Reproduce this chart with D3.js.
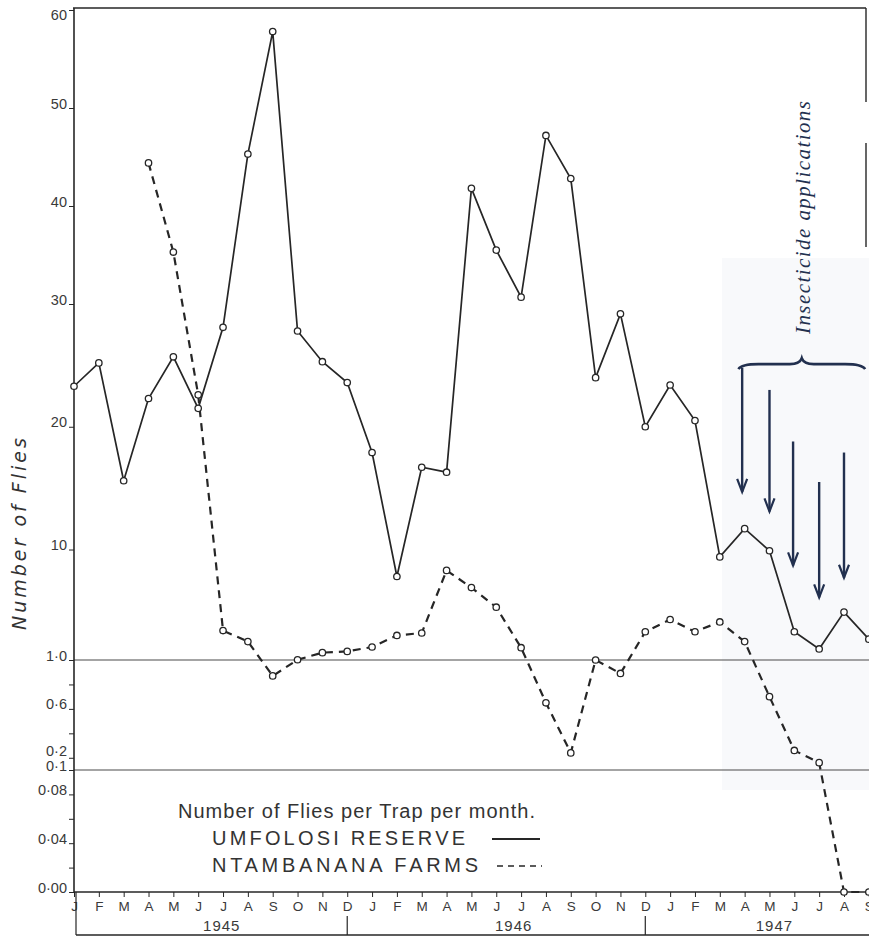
<!DOCTYPE html>
<html>
<head>
<meta charset="UTF-8">
<title>Number of flies per trap per month</title>
<script src="https://d3js.org/d3.v7.min.js"></script>
<style>
    body { margin: 0; background: #fff; }
    svg { display: block; }
    .tick text { font-family: "Liberation Sans", sans-serif; fill: #3a3a3a; }
</style>
</head>
<body>
<svg class="chart" width="869" height="937"></svg>
<script>

// months, Jan 1945 .. Sep 1947
var months = ["J","F","M","A","M","J","J","A","S","O","N","D",
              "J","F","M","A","M","J","J","A","S","O","N","D",
              "J","F","M","A","M","J","J","A","S"];
var years = ["1945", "1946", "1947"];

// Umfolosi Reserve (solid), from Jan 1945
var umfolosi = [23.3, 25.2, 15.6, 22.3, 25.7, 21.5, 28.1, 45.3, 57.8, 27.8, 25.3, 23.6,
                17.9, 7.8, 16.7, 16.3, 41.8, 35.5, 30.7, 47.2, 42.8, 24.0, 29.2, 20.0,
                23.4, 20.5, 9.4, 11.7, 9.9, 3.3, 1.9, 4.9, 2.7];

// Ntambanana Farms (dashed), from Apr 1945
var ntambananaStart = 3;
var ntambanana = [44.4, 35.3, 22.6, 3.4, 2.5, 0.87, 1.02, 1.6, 1.7,
                  2.06, 3.0, 3.2, 8.3, 6.9, 5.3, 2.0, 0.65, 0.24, 1.0, 0.89, 3.3,
                  4.3, 3.3, 4.1, 2.5, 0.70, 0.26, 0.16, 0.0, 0.0];

// y axis ticks (the scale is broken into three linear bands)
var yLabelled = [60, 50, 40, 30, 20, 10, 1, 0.6, 0.2, 0.1, 0.08, 0.04, 0];
var yLabels = ["60", "50", "40", "30", "20", "10", "1·0", "0·6", "0·2", "0·1", "0·08", "0·04", "0·00"];
var yMinor = [0.8, 0.4, 0.06, 0.02];

// insecticide applications: month position, arrow top and arrow tip
var sprayMonth = [26.9, 28.0, 28.95, 30.0, 31.0];
var sprayTop = [24.8, 23.0, 18.8, 15.5, 17.9];
var sprayTip = [14.7, 13.1, 8.7, 6.1, 7.7];

var ink = "#262626", navy = "#22304f";
var svg = d3.select(".chart");

var x = d3.scaleLinear().domain([0, 31]).range([74, 844]);
var y = d3.scaleLinear()
        .domain([0, 0.1, 1, 30, 60])
        .range([892, 770, 660, 304, 10]);

// faint scanned patch on the right
svg.append("rect").attr("x", 722).attr("y", 258).attr("width", 147).attr("height", 532)
        .attr("fill", "#f8f9fb");

// frame lines
svg.append("line").attr("x1", 73).attr("x2", 866).attr("y1", 8).attr("y2", 8)
        .attr("stroke", ink).attr("stroke-width", 1.6);
svg.append("line").attr("x1", 866).attr("x2", 866).attr("y1", 8).attr("y2", 102)
        .attr("stroke", ink).attr("stroke-width", 1.4);
svg.append("line").attr("x1", 866).attr("x2", 866).attr("y1", 143).attr("y2", 247)
        .attr("stroke", ink).attr("stroke-width", 1.4);

// band separators at 1.0 and 0.1
[1, 0.1].forEach(function (v) {
    svg.append("line").attr("x1", 74).attr("x2", 869).attr("y1", y(v)).attr("y2", y(v))
            .attr("stroke", "#4a4a4a").attr("stroke-width", 1.1);
});

// y axis
var yAxis = d3.axisLeft(y).tickValues(yLabelled).tickSize(5).tickPadding(2)
        .tickFormat(function (d, i) { return yLabels[i]; });
var gy = svg.append("g").attr("transform", "translate(74,0)").call(yAxis);
gy.select(".domain").remove();
gy.selectAll(".tick line").attr("stroke", ink);
gy.selectAll(".tick text").attr("font-size", 14.5).attr("dy", "0em")
        .attr("y", function (d) { return d === 60 ? 9 : (d === 0.2 ? -2 : 0); });
svg.append("g").attr("transform", "translate(74,0)")
        .call(d3.axisLeft(y).tickValues(yMinor).tickSize(5).tickFormat(""))
        .call(function (g) { g.select(".domain").remove(); })
        .selectAll("line").attr("stroke", ink);
svg.append("line").attr("x1", 74).attr("x2", 74).attr("y1", 8).attr("y2", 893)
        .attr("stroke", ink).attr("stroke-width", 1.6);

// x axis
var xAxis = d3.axisBottom(x).tickValues(d3.range(months.length)).tickSize(5).tickPadding(4)
        .tickFormat(function (d) { return months[d]; });
var gx = svg.append("g").attr("transform", "translate(0," + y(0) + ")").call(xAxis);
gx.select(".domain").remove();
gx.selectAll(".tick line").attr("stroke", ink);
gx.selectAll(".tick text").attr("font-size", 13.5);
svg.append("line").attr("x1", 74).attr("x2", 869).attr("y1", y(0)).attr("y2", y(0))
        .attr("stroke", ink).attr("stroke-width", 1.6);

// year box below the months
svg.append("line").attr("x1", 76).attr("x2", 869).attr("y1", 935).attr("y2", 935)
        .attr("stroke", ink).attr("stroke-width", 1.4);
svg.append("line").attr("x1", 76).attr("x2", 76).attr("y1", y(0)).attr("y2", 935)
        .attr("stroke", ink).attr("stroke-width", 1.2);
[11, 23].forEach(function (m) {
    svg.append("line").attr("x1", x(m)).attr("x2", x(m)).attr("y1", 916).attr("y2", 935)
            .attr("stroke", ink).attr("stroke-width", 1.2);
});
var yearCentre = [5.95, 17.7, 28.2];
svg.selectAll(".year").data(years).enter().append("text").attr("class", "year")
        .attr("x", function (d, i) { return x(yearCentre[i]); })
        .attr("y", 931)
        .attr("text-anchor", "middle")
        .attr("font-family", "Liberation Sans, sans-serif")
        .attr("font-size", 15).attr("fill", "#3a3a3a")
        .attr("letter-spacing", 1)
        .text(function (d) { return d; });

// y title
svg.append("text")
        .attr("transform", "translate(26,630) rotate(-90)")
        .attr("font-family", "DejaVu Sans, sans-serif")
        .attr("font-style", "italic").attr("font-size", 19).attr("fill", "#333")
        .attr("textLength", 192).attr("lengthAdjust", "spacing")
        .text("Number of Flies");

// series
var solidLine = d3.line()
        .x(function (d, i) { return x(i); })
        .y(function (d) { return y(d); });
var dashLine = d3.line()
        .x(function (d, i) { return x(i + ntambananaStart); })
        .y(function (d) { return y(d); });

svg.append("path").datum(ntambanana).attr("d", dashLine)
        .attr("fill", "none").attr("stroke", ink).attr("stroke-width", 2.2)
        .attr("stroke-dasharray", "8,6");
svg.append("path").datum(umfolosi).attr("d", solidLine)
        .attr("fill", "none").attr("stroke", ink).attr("stroke-width", 1.7);

svg.selectAll(".dot-n").data(ntambanana).enter().append("circle").attr("class", "dot-n")
        .attr("cx", function (d, i) { return x(i + ntambananaStart); })
        .attr("cy", function (d) { return y(d); })
        .attr("r", 3.2).attr("fill", "#fff").attr("stroke", ink).attr("stroke-width", 1.3);
svg.selectAll(".dot-u").data(umfolosi).enter().append("circle").attr("class", "dot-u")
        .attr("cx", function (d, i) { return x(i); })
        .attr("cy", function (d) { return y(d); })
        .attr("r", 3.2).attr("fill", "#fff").attr("stroke", ink).attr("stroke-width", 1.3);

// insecticide arrows
sprayMonth.forEach(function (m, i) {
    var ax = x(m), top = y(sprayTop[i]), tip = y(sprayTip[i]);
    svg.append("line").attr("x1", ax).attr("x2", ax).attr("y1", top).attr("y2", tip)
            .attr("stroke", navy).attr("stroke-width", 2.4);
    svg.append("path").attr("d", "M" + (ax - 5) + "," + (tip - 13) + "L" + ax + "," + tip + "L" + (ax + 5) + "," + (tip - 13))
            .attr("fill", "none").attr("stroke", navy).attr("stroke-width", 2.2);
});

// brace above the arrows
var bx0 = x(26.75), bx1 = x(31.85), bm = x(29.3), by = y(25.1);
svg.append("path")
        .attr("d", "M" + bx0 + "," + (by + 5) + "Q" + (bx0 + 3) + "," + by + " " + (bx0 + 20) + "," + by +
                "L" + (bm - 12) + "," + by + "Q" + (bm - 2) + "," + by + " " + bm + "," + (by - 6) +
                "Q" + (bm + 2) + "," + by + " " + (bm + 12) + "," + by +
                "L" + (bx1 - 20) + "," + by + "Q" + (bx1 - 3) + "," + by + " " + bx1 + "," + (by + 5))
        .attr("fill", "none").attr("stroke", navy).attr("stroke-width", 2.6);

svg.append("text")
        .attr("transform", "translate(810,334) rotate(-90)")
        .attr("font-family", "Liberation Serif, serif")
        .attr("font-style", "italic").attr("font-size", 21).attr("fill", navy)
        .attr("textLength", 233).attr("lengthAdjust", "spacing")
        .text("Insecticide applications");

// legend
var legendFont = "Liberation Sans, sans-serif";
svg.append("text").attr("x", 178).attr("y", 818)
        .attr("font-family", legendFont).attr("font-size", 20).attr("fill", "#333")
        .attr("textLength", 357).attr("lengthAdjust", "spacing")
        .text("Number of Flies per Trap per month.");
svg.append("text").attr("x", 212).attr("y", 845)
        .attr("font-family", legendFont).attr("font-size", 20).attr("fill", "#333")
        .attr("textLength", 253).attr("lengthAdjust", "spacing")
        .text("UMFOLOSI RESERVE");
svg.append("text").attr("x", 212).attr("y", 872)
        .attr("font-family", legendFont).attr("font-size", 20).attr("fill", "#333")
        .attr("textLength", 266).attr("lengthAdjust", "spacing")
        .text("NTAMBANANA FARMS");
svg.append("line").attr("x1", 492).attr("x2", 540).attr("y1", 839).attr("y2", 839)
        .attr("stroke", ink).attr("stroke-width", 1.8);
svg.append("line").attr("x1", 497).attr("x2", 542).attr("y1", 866).attr("y2", 866)
        .attr("stroke", ink).attr("stroke-width", 1.6).attr("stroke-dasharray", "6,5");

</script>
</body>
</html>
